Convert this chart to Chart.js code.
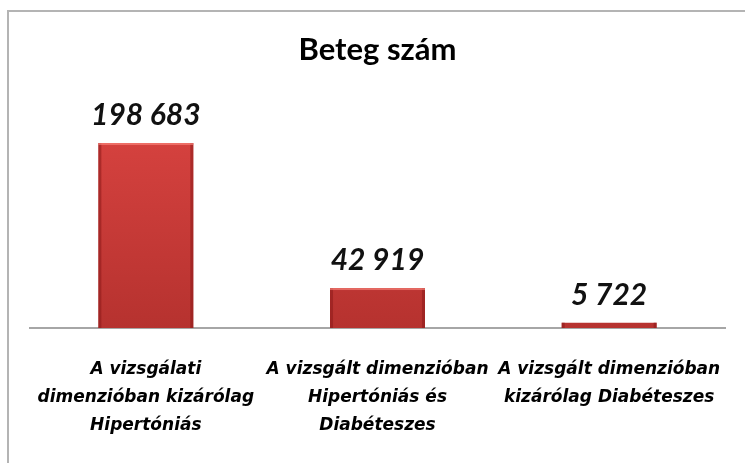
<!DOCTYPE html>
<html>
<head>
<meta charset="utf-8">
<script src="https://cdn.jsdelivr.net/npm/chart.js@4/dist/chart.umd.min.js"></script>
<style>
  html, body { margin: 0; padding: 0; background: #fff; }
  #wrap { width: 745px; height: 463px; position: relative; }
</style>
</head>
<body>
<div id="wrap"><canvas id="betegChart"></canvas></div>
<script>
const categories = [
  ['A vizsgálati', 'dimenzióban kizárólag', 'Hipertóniás'],
  ['A vizsgált dimenzióban', 'Hipertóniás és', 'Diabéteszes'],
  ['A vizsgált dimenzióban', 'kizárólag Diabéteszes']
];
const betegSzam = [198683, 42919, 5722];
const chartTitle = 'Beteg szám';

function fmt(v) {
  return String(v).replace(/\B(?=(\d{3})+(?!\d))/g, ' ');
}

// frame around the chart (clipped on right/bottom like the original)
const framePlugin = {
  id: 'frame',
  beforeDraw(chart) {
    const ctx = chart.ctx;
    ctx.save();
    ctx.strokeStyle = '#b4b4b4';
    ctx.lineWidth = 2;
    ctx.strokeRect(8, 11, 800, 500);
    ctx.restore();
  }
};

// value labels above bars
const valuePlugin = {
  id: 'values',
  afterDatasetsDraw(chart) {
    const ctx = chart.ctx;
    const meta = chart.getDatasetMeta(0);
    ctx.save();
    ctx.font = 'italic bold 30px Lato';
    ctx.fillStyle = '#111';
    ctx.textAlign = 'center';
    ctx.textBaseline = 'alphabetic';
    meta.data.forEach(function (bar, i) {
      ctx.fillText(fmt(betegSzam[i]), bar.x, bar.y - 18);
    });
    ctx.restore();
  }
};

// darker side edges and light top edge on bars
const barShadePlugin = {
  id: 'barShade',
  afterDatasetsDraw(chart) {
    const ctx = chart.ctx;
    const meta = chart.getDatasetMeta(0);
    ctx.save();
    meta.data.forEach(function (bar) {
      const w = bar.width, h = bar.base - bar.y;
      const left = bar.x - w / 2;
      ctx.fillStyle = 'rgba(140,25,25,0.55)';
      ctx.fillRect(left, bar.y, 3, h);
      ctx.fillRect(left + w - 3, bar.y, 3, h);
      if (h > 8) {
        ctx.fillStyle = 'rgba(255,140,130,0.6)';
        ctx.fillRect(left, bar.y, w, 2);
      }
    });
    ctx.restore();
  }
};

const canvas = document.getElementById('betegChart');
const ctx = canvas.getContext('2d');
new Chart(ctx, {
  type: 'bar',
  data: {
    labels: categories,
    datasets: [{
      label: chartTitle,
      data: betegSzam,
      backgroundColor: function (c) {
        const area = c.chart.chartArea;
        if (!area) return '#d2403c';
        const g = c.chart.ctx.createLinearGradient(0, area.top, 0, area.bottom);
        g.addColorStop(0, '#dc4542');
        g.addColorStop(1, '#b6322f');
        return g;
      },
      borderWidth: 0,
      categoryPercentage: 1,
      barPercentage: 0.41
    }]
  },
  options: {
    responsive: true,
    maintainAspectRatio: false,
    animation: false,
    layout: { padding: { left: 30, right: 20, top: 0, bottom: 3 } },
    plugins: {
      legend: { display: false },
      tooltip: { enabled: false },
      title: {
        display: true,
        text: chartTitle,
        color: '#000',
        font: { family: 'Lato', size: 31, weight: 'bold' },
        padding: { top: 31, bottom: 27 }
      }
    },
    scales: {
      x: {
        grid: { display: false },
        border: { color: '#a6a6a6', width: 2 },
        ticks: {
          color: '#000',
          maxRotation: 0,
          autoSkip: false,
          padding: 20,
          font: { family: 'DejaVu Sans', size: 17, style: 'italic', weight: 'bold', lineHeight: 1.647 }
        }
      },
      y: {
        display: false,
        min: 0,
        max: 250000
      }
    }
  },
  plugins: [framePlugin, barShadePlugin, valuePlugin]
});
</script>
</body>
</html>
